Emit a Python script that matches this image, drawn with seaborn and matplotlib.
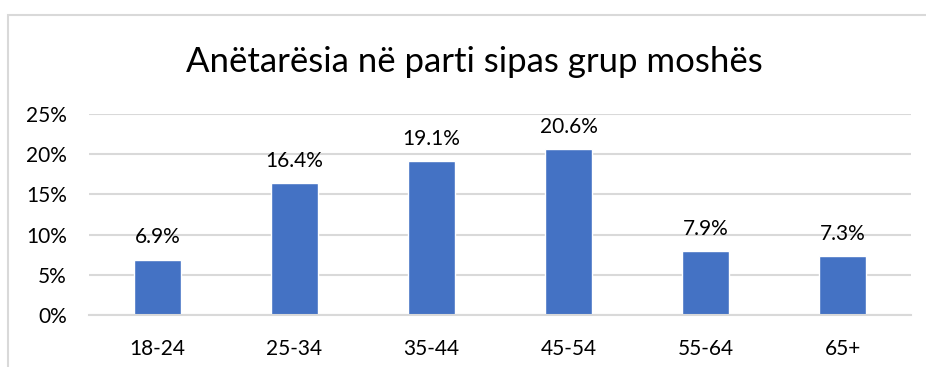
import matplotlib
matplotlib.use("Agg")
import matplotlib.pyplot as plt
import seaborn as sns
import pandas as pd
from matplotlib.patches import Rectangle
from matplotlib.ticker import FuncFormatter

# Party membership share by age group
age_groups = ["18-24", "25-34", "35-44", "45-54", "55-64", "65+"]
shares = [6.9, 16.4, 19.1, 20.6, 7.9, 7.3]
y_ticks = [0, 5, 10, 15, 20, 25]
title = "Anëtarësia në parti sipas grup moshës"

df = pd.DataFrame({"group": age_groups, "share": shares})

sns.set_theme(style="white")
plt.rcParams["font.family"] = ["Lato", "DejaVu Sans"]

W, H = 926, 367
fig = plt.figure(figsize=(W / 100, H / 100), dpi=100)
fig.patch.set_facecolor("white")

# chart frame
fig.patches.append(Rectangle((8 / W, -0.1), 1.2, (H - 15) / H + 0.1,
                             transform=fig.transFigure, fill=False,
                             edgecolor="#D9D9D9", linewidth=1.5))

ax = fig.add_axes([89 / W, 1 - 315 / H, (911 - 89) / W, (315 - 114) / H])
sns.barplot(data=df, x="group", y="share", color="#4472C4", width=0.35,
            saturation=1, ax=ax)

ax.set_ylim(0, 25)
ax.set_yticks(y_ticks)
ax.yaxis.set_major_formatter(FuncFormatter(lambda v, p: f"{v:.0f}%"))
ax.grid(axis="y", color="#D9D9D9", linewidth=1.5)
ax.set_axisbelow(True)
for s in ["top", "right", "left"]:
    ax.spines[s].set_visible(False)
ax.spines["bottom"].set_color("#D9D9D9")
ax.spines["bottom"].set_linewidth(1.5)
ax.set_xlabel("")
ax.set_ylabel("")
ax.tick_params(axis="both", length=0, labelsize=15, colors="black")
ax.tick_params(axis="y", pad=16)
ax.tick_params(axis="x", pad=17)
ax.set_xlim(-0.5, len(age_groups) - 0.5)

ax.bar_label(ax.containers[0], labels=[f"{v:.1f}%" for v in shares],
             padding=9, fontsize=15, color="black")

fig.text(474 / W, 1 - 62 / H, title, ha="center", va="center",
         fontsize=25, color="black")

fig.savefig("out.png", dpi=100, facecolor="white")
